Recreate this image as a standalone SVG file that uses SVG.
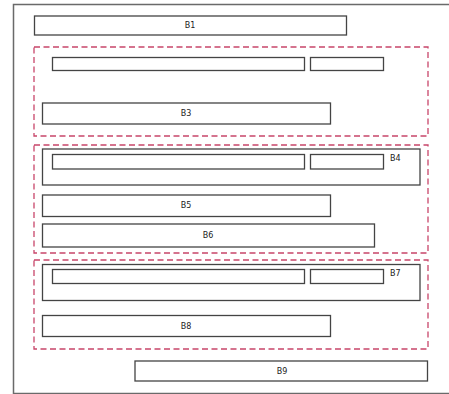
<svg xmlns="http://www.w3.org/2000/svg" width="449" height="394" viewBox="0 0 449 394">
<style>
.frame{fill:none;stroke:#6a6a6a;stroke-width:1.5}
.box{fill:#fff;stroke:#444;stroke-width:1.3}
.grp{fill:none;stroke:#c8456a;stroke-width:1.3;stroke-dasharray:6 3.5}
.lbl{font-family:"DejaVu Sans",sans-serif;font-size:8px;fill:#222;text-anchor:middle;dominant-baseline:central}
.side{font-family:"DejaVu Sans",sans-serif;font-size:8px;fill:#222;dominant-baseline:central}
</style>
<rect width="449" height="394" fill="#fff"/>
<rect class="frame" x="13.5" y="4.5" width="445" height="389"/>
<g id="B1"><rect class="box" x="34.5" y="16" width="312" height="19"/><text class="lbl" x="190" y="25.5">B1</text></g>
<g id="G1"><rect class="grp" x="34" y="47" width="394" height="89"/></g>
<g id="B2a"><rect class="box" x="52.5" y="57.5" width="252" height="13"/></g>
<g id="B2b"><rect class="box" x="310.5" y="57.5" width="73" height="13"/></g>
<g id="B3"><rect class="box" x="42.5" y="103" width="288" height="21"/><text class="lbl" x="186" y="113.5">B3</text></g>
<g id="G2"><rect class="grp" x="34" y="145" width="394" height="108"/></g>
<g id="B4"><rect class="box" x="42.5" y="149" width="377.5" height="36"/><rect class="box" x="52.5" y="154.5" width="252" height="14.5"/><rect class="box" x="310.5" y="154.5" width="73" height="14.5"/><text class="side" x="390" y="158.5">B4</text></g>
<g id="B5"><rect class="box" x="42.5" y="195" width="288" height="21.5"/><text class="lbl" x="186" y="205.5">B5</text></g>
<g id="B6"><rect class="box" x="42.5" y="224" width="332" height="23"/><text class="lbl" x="208" y="235.5">B6</text></g>
<g id="G3"><rect class="grp" x="34" y="260" width="394" height="89"/></g>
<g id="B7"><rect class="box" x="42.5" y="264.5" width="377.5" height="36"/><rect class="box" x="52.5" y="269.5" width="252" height="14"/><rect class="box" x="310.5" y="269.5" width="73" height="14"/><text class="side" x="390" y="273.5">B7</text></g>
<g id="B8"><rect class="box" x="42.5" y="315.5" width="288" height="21"/><text class="lbl" x="186" y="326">B8</text></g>
<g id="B9"><rect class="box" x="135" y="361" width="292.5" height="20"/><text class="lbl" x="282" y="371">B9</text></g>
<g id="connectors"></g>
</svg>
